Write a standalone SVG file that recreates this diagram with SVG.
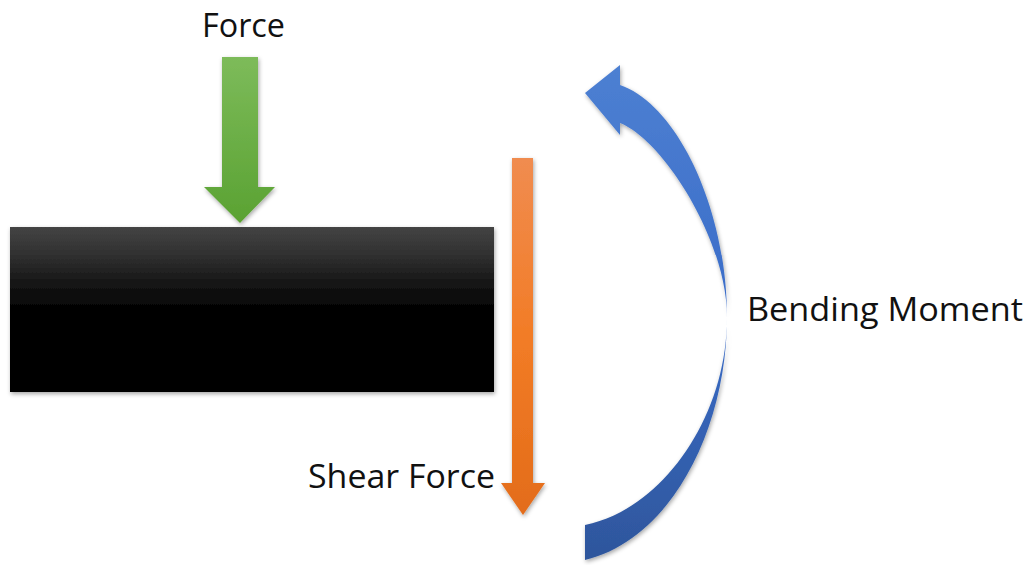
<svg xmlns="http://www.w3.org/2000/svg" width="1030" height="565" viewBox="0 0 1030 565">
  <style>
    .lbl { font-family: "Open Sans", "Liberation Sans", sans-serif; font-size: 33px; fill: #111; }
  </style>
  <defs>
    <filter id="sh" x="-20%" y="-20%" width="140%" height="140%">
      <feDropShadow dx="1" dy="2" stdDeviation="2" flood-color="#000" flood-opacity="0.35"/>
    </filter>
    <linearGradient id="gBeam" x1="0" y1="0" x2="0" y2="1">
      <stop offset="0" stop-color="#444"/>
      <stop offset="0.2" stop-color="#2c2c2c"/>
      <stop offset="0.35" stop-color="#141414"/>
      <stop offset="0.5" stop-color="#030303"/>
      <stop offset="1" stop-color="#000"/>
    </linearGradient>
    <linearGradient id="gGreen" x1="0" y1="0" x2="0" y2="1">
      <stop offset="0" stop-color="#7dbb5a"/>
      <stop offset="1" stop-color="#5aa232"/>
    </linearGradient>
    <linearGradient id="gOrange" x1="0" y1="0" x2="0" y2="1">
      <stop offset="0" stop-color="#f08c50"/>
      <stop offset="0.5" stop-color="#f27c26"/>
      <stop offset="1" stop-color="#e36c1a"/>
    </linearGradient>
    <linearGradient id="gBlue" x1="0" y1="0" x2="0" y2="1">
      <stop offset="0" stop-color="#4d80d2"/>
      <stop offset="0.5" stop-color="#3a6cc8"/>
      <stop offset="1" stop-color="#2e569c"/>
    </linearGradient>
  </defs>
  <rect width="1030" height="565" fill="#fff"/>

  <g id="beam">
    <rect x="10" y="227" width="484" height="165" fill="url(#gBeam)" filter="url(#sh)"/>
  </g>

  <g id="force">
    <polygon points="222,57 258,57 258,187 275,187 240,223 204,187 222,187" fill="url(#gGreen)" filter="url(#sh)"/>
    <text class="lbl" x="202" y="37" textLength="83" lengthAdjust="spacingAndGlyphs">Force</text>
  </g>

  <g id="shear-force">
    <polygon points="512,158 533,158 533,483 545,483 523,515 501,483 512,483" fill="url(#gOrange)" filter="url(#sh)"/>
    <text class="lbl" x="308" y="488" textLength="187" lengthAdjust="spacingAndGlyphs">Shear Force</text>
  </g>

  <g id="bending-moment">
    <path d="M585,93 L620,65 L620,85 C678,105 727,210 727,317 C727,430 670,540 585,560 L585,525 C660,510 727,420 727,317 C727,240 663,140 620,123 L620,135 Z" fill="url(#gBlue)" filter="url(#sh)"/>
    <text class="lbl" x="747" y="321" textLength="276" lengthAdjust="spacingAndGlyphs">Bending Moment</text>
  </g>
</svg>
